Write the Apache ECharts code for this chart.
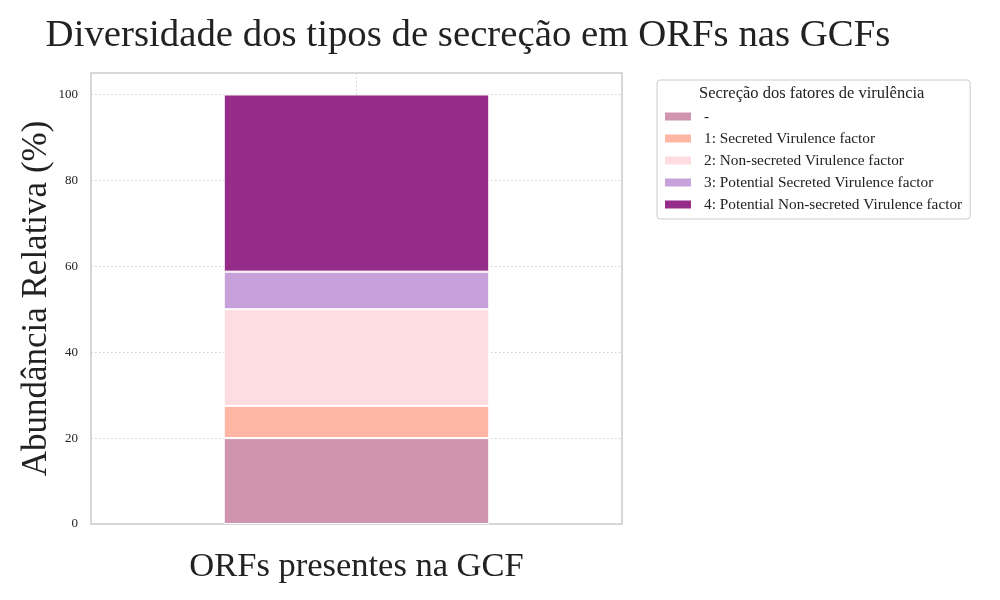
<!DOCTYPE html>
<html>
<head>
<meta charset="utf-8">
<script src="https://cdn.jsdelivr.net/npm/echarts@6/dist/echarts.min.js"></script>
<style>
  html, body { margin: 0; padding: 0; background: #fff; }
  #chart { width: 1000px; height: 600px; }
</style>
</head>
<body>
<div id="chart"></div>
<script>
  // dados (%)
  const categorias = ['ORFs presentes na GCF']
  const tipos = [
    '-',
    '1: Secreted Virulence factor',
    '2: Non-secreted Virulence factor',
    '3: Potential Secreted Virulence factor',
    '4: Potential Non-secreted Virulence factor'
  ]
  const valores = [20, 7.5, 22.5, 8.75, 41.25]
  const cores = ['#cf95ae', '#ffb6a5', '#ffdce0', '#c6a1da', '#952c89']

  const fonte = '"Liberation Serif", "DejaVu Serif", serif'
  const myChart = echarts.init(document.getElementById('chart'))

  const series = tipos.map(function (nome, i) {
    return {
      name: nome,
      type: 'bar',
      stack: 'total',
      barWidth: '50%',
      itemStyle: { color: cores[i], borderColor: '#fff', borderWidth: 1 },
      emphasis: { disabled: true },
      data: [valores[i]]
    }
  })

  const grade = { type: [1.5, 2.5], color: '#d0d0d0', width: 1 }

  const option = {
    animation: false,
    textStyle: { fontFamily: fonte },
    title: {
      text: 'Diversidade dos tipos de secreção em ORFs nas GCFs',
      left: 463,
      textAlign: 'center',
      top: 11,
      textStyle: { fontFamily: fonte, fontSize: 38.8, fontWeight: 'normal', color: '#222' }
    },
    grid: {
      left: 91, right: 378, top: 73, bottom: 76,
      show: true, borderColor: '#cccccc', borderWidth: 1.5
    },
    legend: {
      orient: 'vertical',
      left: 657,
      top: 80,
      padding: [29, 8, 7, 6],
      itemGap: 7,
      itemWidth: 28,
      itemHeight: 10,
      icon: 'rect',
      backgroundColor: '#fff',
      borderColor: '#cccccc',
      borderWidth: 1,
      borderRadius: 3,
      selectedMode: false,
      textStyle: { fontFamily: fonte, fontSize: 15.3, color: '#222', padding: [0, 0, 0, 7] },
      data: tipos
    },
    graphic: [{
      type: 'text',
      left: 699,
      top: 85,
      z: 100,
      style: { text: 'Secreção dos fatores de virulência', font: '16.5px ' + fonte, fill: '#222' }
    }],
    xAxis: {
      type: 'category',
      data: categorias,
      name: categorias[0],
      nameLocation: 'middle',
      nameGap: 25,
      nameMoveOverlap: false,
      nameTextStyle: { fontFamily: fonte, fontSize: 34.5, color: '#222' },
      axisLabel: { show: false },
      axisTick: { show: false },
      axisLine: { show: false },
      splitLine: { show: true, alignWithLabel: true, lineStyle: grade }
    },
    yAxis: {
      type: 'value',
      min: 0,
      max: 105,
      interval: 20,
      name: 'Abundância Relativa (%)',
      nameLocation: 'middle',
      nameGap: 37,
      nameMoveOverlap: false,
      nameTextStyle: { fontFamily: fonte, fontSize: 35, color: '#222' },
      axisLabel: {
        fontFamily: fonte, fontSize: 13, color: '#222', margin: 13,
        formatter: function (v) { return v > 100 ? '' : v }
      },
      axisTick: { show: false },
      axisLine: { show: false },
      splitLine: { show: true, lineStyle: grade }
    },
    series: series
  }
  myChart.setOption(option)
</script>
</body>
</html>
